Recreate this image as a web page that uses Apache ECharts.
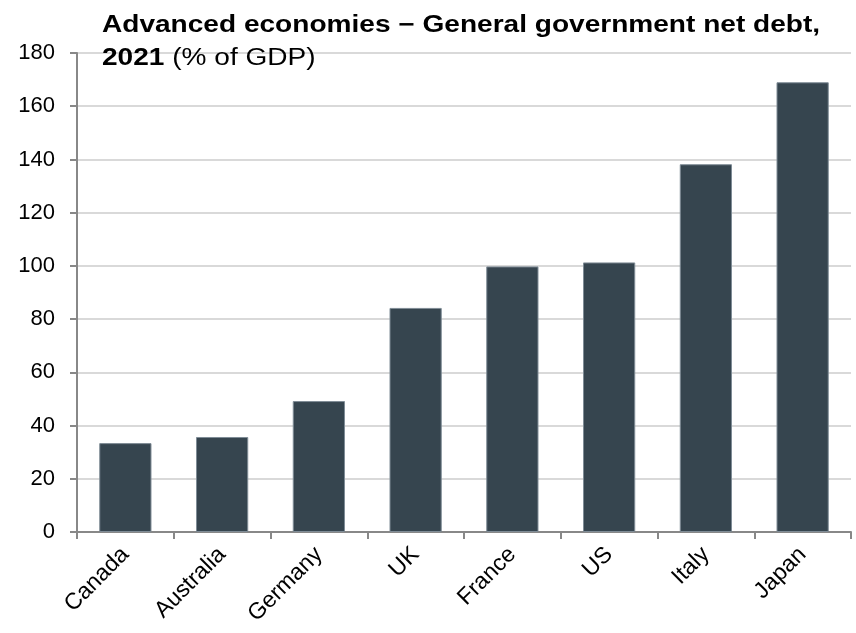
<!DOCTYPE html>
<html>
<head>
<meta charset="utf-8">
<script src="https://cdn.jsdelivr.net/npm/echarts@6/dist/echarts.min.js"></script>
<style>
  html, body { margin: 0; padding: 0; background: #ffffff; }
  #chart { width: 856px; height: 633px; }
</style>
</head>
<body>
<div id="chart"></div>
<script>
// Net debt, general government, 2021 (% of GDP)
const countries = ['Canada', 'Australia', 'Germany', 'UK', 'France', 'US', 'Italy', 'Japan'];
const netDebt = [33.4, 35.7, 49.2, 84.2, 99.8, 101.3, 138.2, 169.0];
const yTicks = [0, 20, 40, 60, 80, 100, 120, 140, 160, 180];

const FONT = '"Liberation Sans", Arial, sans-serif';

const chart = echarts.init(document.getElementById('chart'), null, { renderer: 'canvas' });

chart.setOption({
  animation: false,
  backgroundColor: '#ffffff',
  // Two-line heading, slightly widened glyphs
  graphic: [{
    type: 'text',
    x: 102,
    y: 9,
    scaleX: 1.22,
    scaleY: 1,
    originX: 0,
    originY: 0,
    z: 10,
    style: {
      text: '{b|Advanced economies \u2212 General government net debt,}\n{b|2021}{n| (% of GDP)}',
      rich: {
        b: { fontFamily: FONT, fontSize: 23, fontWeight: 'bold', fill: '#000', color: '#000', lineHeight: 33 },
        n: { fontFamily: FONT, fontSize: 23, fontWeight: 'normal', fill: '#000', color: '#000', lineHeight: 33 }
      }
    }
  }],
  grid: { left: 77, right: 5, top: 53, bottom: 101, containLabel: false },
  xAxis: {
    type: 'category',
    data: countries,
    boundaryGap: true,
    axisLine: { show: true, lineStyle: { color: '#888888', width: 2 } },
    axisTick: { show: true, alignWithLabel: false, length: 7, lineStyle: { color: '#888888', width: 2 } },
    axisLabel: {
      rotate: 45,
      interval: 0,
      margin: 19,
      fontFamily: FONT,
      fontSize: 23,
      color: '#000'
    },
    splitLine: { show: false }
  },
  yAxis: {
    type: 'value',
    min: yTicks[0],
    max: yTicks[yTicks.length - 1],
    interval: yTicks[1] - yTicks[0],
    axisLine: { show: true, lineStyle: { color: '#888888', width: 2 } },
    axisTick: { show: true, inside: false, length: 7, lineStyle: { color: '#888888', width: 2 } },
    axisLabel: {
      fontFamily: FONT,
      fontSize: 22,
      color: '#000',
      margin: 22
    },
    splitLine: { show: true, lineStyle: { color: '#d9d9d9', width: 2 } }
  },
  series: [{
    type: 'bar',
    data: netDebt,
    barCategoryGap: '46%',
    itemStyle: { color: '#36454f', borderColor: '#7f8c96', borderWidth: 1 }
  }]
});
</script>
</body>
</html>
